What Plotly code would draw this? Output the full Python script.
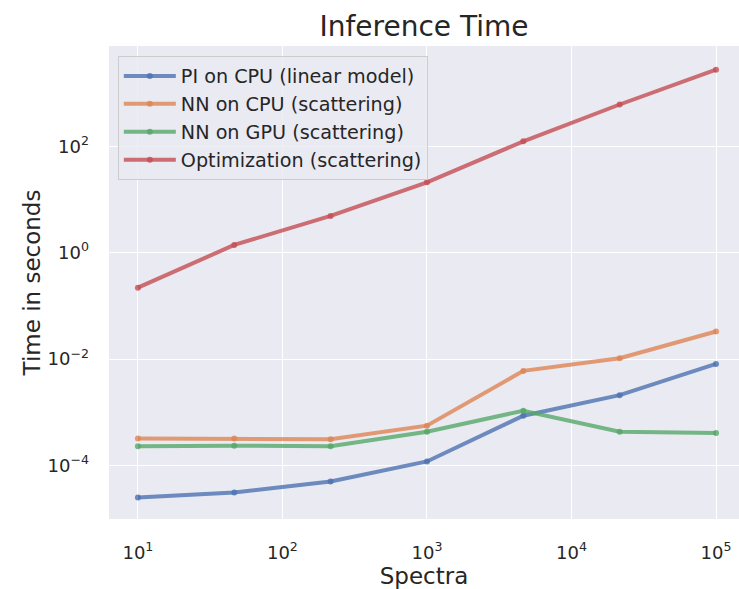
import plotly.graph_objects as go

spectra = [10, 46.4, 215.4, 1000, 4642, 21544, 100000]
pi_cpu = [2.5e-5, 3.1e-5, 5.0e-5, 1.19e-4, 8.6e-4, 2.1e-3, 8.1e-3]
nn_cpu = [3.2e-4, 3.2e-4, 3.1e-4, 5.6e-4, 6.0e-3, 1.04e-2, 3.3e-2]
nn_gpu = [2.3e-4, 2.36e-4, 2.3e-4, 4.3e-4, 1.07e-3, 4.3e-4, 4.1e-4]
optim = [0.22, 1.4, 4.9, 21, 124, 610, 2750]

names = ["PI on CPU (linear model)", "NN on CPU (scattering)",
         "NN on GPU (scattering)", "Optimization (scattering)"]
series = [pi_cpu, nn_cpu, nn_gpu, optim]
colors = ["rgba(76,114,176,0.8)", "rgba(221,132,82,0.8)",
          "rgba(85,168,104,0.8)", "rgba(196,78,82,0.8)"]

x_tickvals = [10, 100, 1000, 10000, 100000]
x_ticktext = ["10<sup>1</sup>", "10<sup>2</sup>", "10<sup>3</sup>", "10<sup>4</sup>", "10<sup>5</sup>"]
y_tickvals = [1e-4, 1e-2, 1, 100]
y_ticktext = ["10<sup>−4</sup>", "10<sup>−2</sup>", "10<sup>0</sup>", "10<sup>2</sup>"]

fig = go.Figure()
for i, (n, s, c) in enumerate(zip(names, series, colors)):
    fig.add_trace(go.Scatter(
        x=spectra, y=s, name=n, mode="lines+markers",
        line=dict(color=c, width=4),
        marker=dict(color=c, size=6),
        legendgroup=f"g{i}",
    ))

font_color = "#262626"
fig.update_layout(
    width=739, height=589,
    margin=dict(l=109, r=0, t=46, b=70),
    paper_bgcolor="white",
    plot_bgcolor="#EAEAF2",
    font=dict(family="DejaVu Sans", color=font_color, size=18),
    title=dict(text="Inference Time", x=0.5, xref="paper", xanchor="center",
               y=1 - 16 / 589, yanchor="top",
               font=dict(size=28, color=font_color)),
    showlegend=True,
    legend=dict(
        x=0.014, y=0.979, xanchor="left", yanchor="top",
        bgcolor="rgba(234,234,242,0.8)", bordercolor="#CCCCCC", borderwidth=1,
        font=dict(size=19.2, color=font_color),
        tracegroupgap=0, traceorder="grouped",
        itemwidth=52,
    ),
    xaxis=dict(
        type="log", range=[0.8, 5.159],
        tickvals=x_tickvals, ticktext=x_ticktext,
        showgrid=True, gridcolor="white", gridwidth=1.3,
        zeroline=False, showline=False, ticks="",
        ticklabelstandoff=21, automargin=False,
        title=dict(text="Spectra", font=dict(size=23, color=font_color), standoff=6),
        tickfont=dict(size=18),
    ),
    yaxis=dict(
        type="log", range=[-5.006, 3.885],
        tickvals=y_tickvals, ticktext=y_ticktext,
        showgrid=True, gridcolor="white", gridwidth=1.3,
        zeroline=False, showline=False, ticks="",
        ticklabelstandoff=19, automargin=False,
        title=dict(text="Time in seconds", font=dict(size=23, color=font_color), standoff=0),
        tickfont=dict(size=18),
    ),
)

fig.write_html("out.html", config={"displayModeBar": False},
               post_script="document.body.style.margin='0';document.body.style.overflow='hidden';")
